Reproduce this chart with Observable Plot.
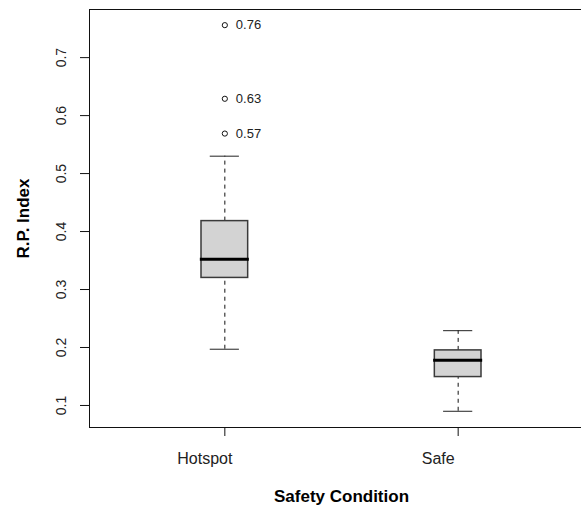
<!DOCTYPE html>
<html>
<head>
<meta charset="utf-8">
<script src="https://cdn.jsdelivr.net/npm/d3@7"></script>
<script src="https://cdn.jsdelivr.net/npm/@observablehq/plot@0.6"></script>
<style>
  html, body { margin: 0; padding: 0; background: #fff; overflow: hidden; }
  svg { font-family: "Liberation Sans", Arial, sans-serif; }
</style>
</head>
<body>
<div id="chart"></div>
<script>
// Data
const groups = ["Hotspot", "Safe"];
const lowerWhisker = [0.197, 0.090];
const q1 = [0.320, 0.149];
const median = [0.352, 0.178];
const q3 = [0.418, 0.195];
const upperWhisker = [0.530, 0.229];
const outlierGroup = ["Hotspot", "Hotspot", "Hotspot"];
const outlierValues = [0.756, 0.629, 0.569];
const outlierLabels = ["0.76", "0.63", "0.57"];
const yTicks = [0.1, 0.2, 0.3, 0.4, 0.5, 0.6, 0.7];

const boxes = groups.map((g, i) => ({
  group: g, pos: i + 1,
  lo: lowerWhisker[i], q1: q1[i], med: median[i], q3: q3[i], hi: upperWhisker[i]
}));
const outliers = outlierValues.map((v, i) => ({
  pos: groups.indexOf(outlierGroup[i]) + 1, value: v, label: outlierLabels[i]
}));

const xDomain = [0.42, 2.58];
const yDomain = [0.062, 0.783];
const boxHalf = 0.1, capHalf = 0.0625, medHalf = 0.105;

const chart = Plot.plot({
  width: 581,
  height: 506,
  marginLeft: 89,
  marginRight: 0,
  marginTop: 9,
  marginBottom: 79,
  style: { fontFamily: "'Liberation Sans', Arial, sans-serif", background: "#fff" },
  x: { domain: xDomain, range: [89, 593], axis: null },
  y: { domain: yDomain, axis: null },
  marks: [
    // plot box (right edge falls outside the picture)
    Plot.ruleY(yDomain, { y: d => d, x1: xDomain[0], x2: xDomain[1], stroke: "#111" }),
    Plot.ruleX([xDomain[0]], { x: d => d, y1: yDomain[0], y2: yDomain[1], stroke: "#111" }),
    // y ticks
    Plot.axisY({ ticks: yTicks, tickSize: 9, tickFormat: () => "", label: null, stroke: "#111" }),
    Plot.text(yTicks, {
      y: d => d, text: d => String(d), frameAnchor: "left", dx: -28,
      rotate: -90, textAnchor: "middle", lineAnchor: "middle",
      fontSize: 14, fill: "#222"
    }),
    // x ticks
    Plot.axisX({ ticks: [1, 2], tickSize: 9, tickFormat: () => "", label: null, stroke: "#111" }),
    Plot.text(boxes, {
      x: "pos", text: "group", frameAnchor: "bottom", dy: 31, dx: -20,
      textAnchor: "middle", lineAnchor: "middle", fontSize: 16, fill: "#222"
    }),
    // whiskers (dashed)
    Plot.ruleX(boxes, { x: "pos", y1: "q3", y2: "hi", stroke: "#111", strokeDasharray: "4,4" }),
    Plot.ruleX(boxes, { x: "pos", y1: "lo", y2: "q1", stroke: "#111", strokeDasharray: "4,4" }),
    // staples
    Plot.ruleY(boxes, { y: "hi", x1: d => d.pos - capHalf, x2: d => d.pos + capHalf, stroke: "#222" }),
    Plot.ruleY(boxes, { y: "lo", x1: d => d.pos - capHalf, x2: d => d.pos + capHalf, stroke: "#222" }),
    // boxes
    Plot.rect(boxes, {
      x1: d => d.pos - boxHalf, x2: d => d.pos + boxHalf, y1: "q1", y2: "q3",
      fill: "#d3d3d3", stroke: "#3a3a3a", strokeWidth: 1.5
    }),
    // medians
    Plot.ruleY(boxes, { y: "med", x1: d => d.pos - medHalf, x2: d => d.pos + medHalf, stroke: "#000", strokeWidth: 3 }),
    // outliers
    Plot.dot(outliers, { x: "pos", y: "value", r: 2.6, stroke: "#111", fill: "none", strokeWidth: 1 }),
    Plot.text(outliers, {
      x: "pos", y: "value", text: "label", dx: 11, textAnchor: "start",
      lineAnchor: "middle", fontSize: 13, fill: "#222"
    }),
    // axis titles
    Plot.text(["Safety Condition"], {
      text: d => d, x: () => (xDomain[0] + xDomain[1]) / 2, frameAnchor: "bottom", dy: 69,
      lineAnchor: "middle", fontSize: 17, fontWeight: "bold", fill: "#000"
    }),
    Plot.text(["R.P. Index"], {
      text: d => d, frameAnchor: "left", dx: -66, rotate: -90,
      textAnchor: "middle", lineAnchor: "middle",
      fontSize: 17, fontWeight: "bold", fill: "#000"
    })
  ]
});
document.getElementById("chart").appendChild(chart);
</script>
</body>
</html>
